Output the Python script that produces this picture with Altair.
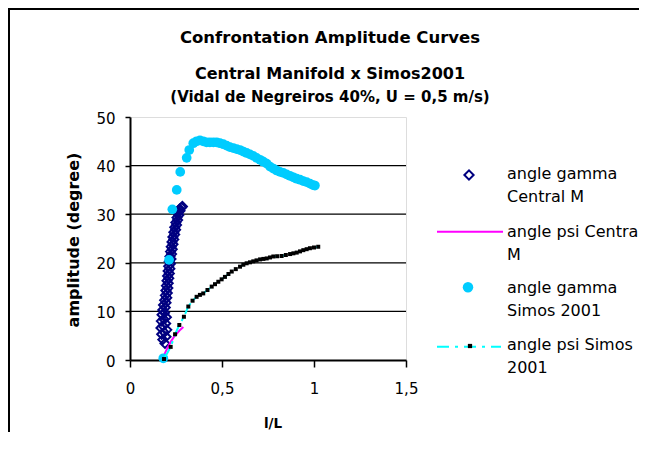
import altair as alt
import pandas as pd

# ---------------- data ----------------
gamma_cm_x = [0.190, 0.178, 0.196, 0.172, 0.186, 0.200, 0.168, 0.180, 0.194, 0.170, 0.184, 0.198,
              0.174, 0.188, 0.178, 0.192, 0.182,
              0.196, 0.188, 0.200, 0.192, 0.203, 0.195, 0.206, 0.198, 0.208, 0.201, 0.211, 0.204,
              0.214, 0.207, 0.217, 0.210, 0.220, 0.213, 0.223, 0.217, 0.226, 0.220, 0.230, 0.224,
              0.234, 0.228, 0.238, 0.233, 0.243, 0.238, 0.248, 0.243, 0.253, 0.249, 0.259, 0.255,
              0.265, 0.262, 0.272, 0.270, 0.280, 0.285]
gamma_cm_y = [3.4, 4.2, 4.8, 5.3, 5.7, 6.2, 6.6, 7.0, 7.5, 8.0, 8.4, 8.8,
              9.3, 9.7, 10.3, 10.8, 11.3,
              11.8, 12.3, 12.8, 13.3, 13.8, 14.3, 14.8, 15.3, 15.8, 16.3, 16.8, 17.3,
              17.8, 18.3, 18.8, 19.3, 19.8, 20.3, 20.8, 21.3, 21.8, 22.3, 22.8, 23.3,
              23.8, 24.3, 24.8, 25.3, 25.8, 26.3, 26.8, 27.3, 27.8, 28.3, 28.8, 29.3,
              29.8, 30.3, 30.7, 31.1, 31.4, 31.6]

psi_cm_x = [0.178, 0.190, 0.205, 0.222, 0.240, 0.258, 0.275, 0.290]
psi_cm_y = [0.3, 1.4, 2.6, 3.8, 4.8, 5.6, 6.3, 6.8]

gamma_simos_x = [0.181, 0.212, 0.230, 0.254, 0.273, 0.308, 0.322, 0.344, 0.362, 0.380, 0.398,
                 0.416, 0.434, 0.453, 0.471, 0.489, 0.507, 0.525, 0.543, 0.562, 0.580, 0.598,
                 0.616, 0.634, 0.652, 0.670, 0.688, 0.707, 0.725, 0.743, 0.761, 0.779, 0.797,
                 0.815, 0.833, 0.851, 0.869, 0.888, 0.906, 0.924, 0.942, 0.960, 0.978, 0.995, 1.005]
gamma_simos_y = [0.35, 20.6, 31.0, 35.0, 38.7, 41.6, 43.2, 44.6, 45.0, 45.2, 45.0,
                 44.8, 44.8, 44.8, 44.8, 44.6, 44.4, 44.1, 43.8, 43.6, 43.4, 43.2,
                 42.9, 42.6, 42.3, 42.0, 41.6, 41.2, 40.8, 40.4, 39.8, 39.4, 39.0,
                 38.7, 38.5, 38.2, 37.9, 37.6, 37.3, 37.1, 36.8, 36.6, 36.3, 36.0, 35.9]

psi_simos_x = [0.185, 0.221, 0.245, 0.268, 0.293, 0.317, 0.340, 0.362, 0.380, 0.398, 0.421,
               0.444, 0.462, 0.480, 0.498, 0.516, 0.535, 0.553, 0.575, 0.598, 0.616, 0.634,
               0.652, 0.670, 0.688, 0.707, 0.725, 0.743, 0.761, 0.779, 0.800, 0.824, 0.847,
               0.870, 0.888, 0.906, 0.924, 0.942, 0.960, 0.978, 1.000, 1.023]
psi_simos_y = [0.2, 2.7, 5.3, 7.2, 8.9, 11.0, 12.2, 13.0, 13.4, 13.7, 14.4,
               15.1, 15.6, 16.1, 16.6, 17.1, 17.7, 18.2, 18.7, 19.2, 19.6, 19.9,
               20.1, 20.3, 20.5, 20.7, 20.8, 20.9, 21.1, 21.3, 21.35, 21.4, 21.6,
               21.8, 21.95, 22.1, 22.35, 22.6, 22.8, 23.0, 23.15, 23.3]

legend_lines = [["angle gamma", "Central M"],
                ["angle psi Central", "M"],
                ["angle gamma", "Simos 2001"],
                ["angle psi Simos", "2001"]]

title_lines = ["Confrontation Amplitude Curves",
               "Central Manifold x Simos2001",
               "(Vidal de Negreiros 40%, U = 0,5 m/s)"]
x_title = "l/L"
y_title = "amplitude (degree)"
x_ticks = [0, 0.5, 1, 1.5]
y_ticks = [0, 10, 20, 30, 40, 50]
grid_values = [10, 20, 30, 40]

# ---------------- styling ----------------
FONT = "DejaVu Sans"
NAVY = "#000080"
MAGENTA = "#FF00FF"
SKY = "#00CCFF"
CYAN = "#00FFFF"

W, H = 276, 243

xscale = alt.Scale(domain=[0, 1.5], nice=False, zero=False)
yscale = alt.Scale(domain=[0, 50], nice=False, zero=False)

xaxis = alt.Axis(values=x_ticks, title=None, grid=False, labelFlush=False,
                 labelExpr="replace(toString(datum.value), '.', ',')",
                 tickSize=7, tickWidth=1.5, domainWidth=2, labelPadding=14,
                 labelFont=FONT, labelFontSize=15, labelColor="black",
                 domainColor="black", tickColor="black")
yaxis = alt.Axis(values=y_ticks, title=None, grid=False, labelFlush=False, format="d",
                 tickSize=5, tickWidth=1.5, domainWidth=2, labelPadding=10,
                 labelFont=FONT, labelFontSize=15, labelColor="black", labelOffset=1,
                 domainColor="black", tickColor="black")

X = alt.X("x:Q", scale=xscale, axis=xaxis)
Y = alt.Y("y:Q", scale=yscale, axis=yaxis)

one = pd.DataFrame({"k": [0]})

grid = alt.Chart(pd.DataFrame({"y": grid_values})).mark_rule(
    color="black", strokeWidth=1.3).encode(y=Y)

df_gcm = pd.DataFrame({"x": gamma_cm_x, "y": gamma_cm_y})
df_pcm = pd.DataFrame({"x": psi_cm_x, "y": psi_cm_y})
df_gs = pd.DataFrame({"x": gamma_simos_x, "y": gamma_simos_y})
df_ps = pd.DataFrame({"x": psi_simos_x, "y": psi_simos_y})

gcm = alt.Chart(df_gcm).mark_point(shape="diamond", filled=False, color=NAVY,
                                   size=80, strokeWidth=2, opacity=1).encode(x=X, y=Y)
pcm = alt.Chart(df_pcm).mark_line(color=MAGENTA, strokeWidth=2).encode(x=X, y=Y)
gs = alt.Chart(df_gs).mark_point(shape="circle", filled=True, color=SKY,
                                 size=95, opacity=1).encode(x=X, y=Y)
ps_line = alt.Chart(df_ps).mark_line(color=CYAN, strokeWidth=2,
                                     strokeDash=[12, 5, 3, 5]).encode(x=X, y=Y)
ps_pts = alt.Chart(df_ps).mark_point(shape="square", filled=True, color="black",
                                     size=16, opacity=1).encode(x=X, y=Y)

layers = [grid, gcm, pcm, gs, ps_line, ps_pts]

# frame (top and left edges of the chart box)
layers.append(alt.Chart(one).mark_rect(color="black", opacity=1).encode(
    x=alt.value(-122), x2=alt.value(520), y=alt.value(-109), y2=alt.value(-107)))
layers.append(alt.Chart(one).mark_rect(color="black", opacity=1).encode(
    x=alt.value(-122), x2=alt.value(-120), y=alt.value(-109), y2=alt.value(340)))

# titles
title_sizes = [16.5, 16, 15]
title_y = [-73.7, -37.7, -15.5]
for t, s, ty in zip(title_lines, title_sizes, title_y):
    layers.append(alt.Chart(one).mark_text(font=FONT, fontWeight="bold", fontSize=s,
                                           align="center", baseline="alphabetic",
                                           color="black").encode(
        x=alt.value(200), y=alt.value(ty), text=alt.value(t)))

layers.append(alt.Chart(one).mark_text(font=FONT, fontWeight="bold", fontSize=13.5,
                                       align="center", baseline="alphabetic",
                                       color="black").encode(
    x=alt.value(143), y=alt.value(311), text=alt.value(x_title)))
layers.append(alt.Chart(one).mark_text(font=FONT, fontWeight="bold", fontSize=16, angle=270,
                                       align="center", baseline="alphabetic",
                                       color="black").encode(
    x=alt.value(-51), y=alt.value(123), text=alt.value(y_title)))

# legend
sym_x = 339
layers.append(alt.Chart(one).mark_point(shape="diamond", filled=False, color=NAVY, size=85,
                                        strokeWidth=2, opacity=1).encode(
    x=alt.value(sym_x), y=alt.value(58)))
layers.append(alt.Chart(one).mark_rule(color=MAGENTA, strokeWidth=2).encode(
    x=alt.value(307), x2=alt.value(373), y=alt.value(114.7)))
layers.append(alt.Chart(one).mark_point(shape="circle", filled=True, color=SKY, size=110,
                                        opacity=1).encode(
    x=alt.value(sym_x - 1), y=alt.value(170.3)))
layers.append(alt.Chart(one).mark_rule(color=CYAN, strokeWidth=2, strokeDash=[12, 6, 3, 6]).encode(
    x=alt.value(307), x2=alt.value(371), y=alt.value(229.7)))
layers.append(alt.Chart(one).mark_point(shape="square", filled=True, color="black", size=18,
                                        opacity=1).encode(
    x=alt.value(sym_x + 1), y=alt.value(229)))

legend_base = [62.3, 120.3, 176.3, 233.0]
for lines, by in zip(legend_lines, legend_base):
    for i, ln in enumerate(lines):
        layers.append(alt.Chart(one).mark_text(font=FONT, fontSize=16, align="left",
                                               baseline="alphabetic", color="black").encode(
            x=alt.value(377), y=alt.value(by + 23 * i), text=alt.value(ln)))

chart = alt.layer(*layers).properties(
    width=W, height=H,
    padding={"left": 122, "top": 109, "right": 233, "bottom": 72},
    autosize=alt.AutoSizeParams(type="none"),
).configure_view(stroke=None).configure(background="white")

chart.save("out.html", embed_options={"renderer": "svg", "actions": False})
